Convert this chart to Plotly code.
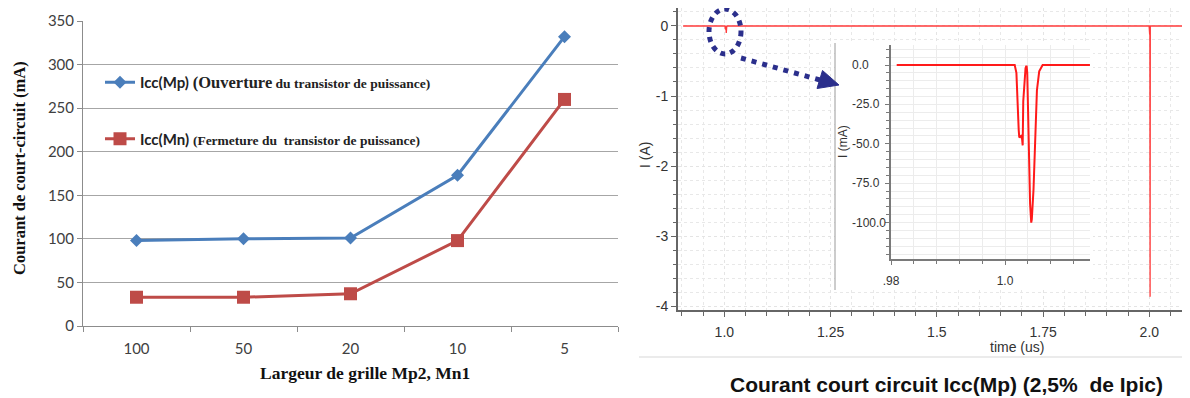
import plotly.graph_objects as go

# The page body adds an 8px margin, so the figure is drawn 8px smaller
# and every layout position below is given in screenshot pixels.
OFF = 8
W, H = 1190 - OFF, 398 - OFF

# ---------------- data: left chart ----------------
gate_width = ["100", "50", "20", "10", "5"]
icc_mp = [98, 100, 101, 173, 332]
icc_mn = [33, 33, 37, 98, 260]
left_yticks = [0, 50, 100, 150, 200, 250, 300, 350]

# ---------------- data: right chart (main, A vs us) ----------------
t_main = [0.903, 1.0017, 1.0024, 1.0031, 1.0038, 1.0046, 1.0056, 1.0066,
          1.9995, 2.0008, 2.0013, 2.0018, 2.0023, 2.0957]
i_main = [0.0, 0.0, -0.041, -0.051, -0.001, -0.100, -0.016, 0.0,
          0.0, -0.12, -0.05, -3.867, 0.0, 0.0]
main_xtick_vals = [1.0, 1.25, 1.5, 1.75, 2.0]
main_xtick_text = ["1.0", "1.25", "1.5", "1.75", "2.0"]
main_ytick_vals = [0, -1, -2, -3, -4]
main_ytick_text = ["0", "-1", "-2", "-3", "-4"]

# ---------------- data: inset (mA vs us) ----------------
t_inset = [0.9810, 1.0017, 1.0020, 1.0022, 1.0024, 1.0025, 1.0028, 1.0030,
           1.0031, 1.0032, 1.0034, 1.0036, 1.0037, 1.0038, 1.0039, 1.0041,
           1.0044, 1.0046, 1.0047, 1.0050, 1.0053, 1.0056, 1.0060, 1.0066,
           1.0149]
i_inset = [0, 0, -5, -30, -41, -46, -45, -47,
           -51, -23, -8, -2, -1, -1, -5, -41,
           -88, -100, -98, -79, -41, -16, -4, 0,
           0]
inset_xtick_vals = [0.98, 1.0]
inset_xtick_text = [".98", "1.0"]
inset_ytick_vals = [0, -25, -50, -75, -100]
inset_ytick_text = ["0.0", "-25.0", "-50.0", "-75.0", "-100.0"]


def px(x):
    return (x - OFF) / W


def py(y):
    return 1 - (y - OFF) / H


fig = go.Figure()

# left chart traces
fig.add_trace(go.Scatter(
    x=gate_width, y=icc_mp, mode="lines+markers", xaxis="x", yaxis="y",
    name="<b>Icc(Mp)</b> <span style=\"font-family:Liberation Serif;font-size:16.5px\"><b>(Ouverture</b></span>"
         "<span style=\"font-family:Liberation Serif;font-size:13.5px\"><b> du transistor de puissance)</b></span>",
    legendgroup="mp",
    line=dict(color="#4A7EBB", width=3),
    marker=dict(symbol="diamond", size=10, color="#4A7EBB"),
))
fig.add_trace(go.Scatter(
    x=gate_width, y=icc_mn, mode="lines+markers", xaxis="x", yaxis="y",
    name="<b>Icc(Mn)</b> <span style=\"font-family:Liberation Serif;font-size:13.5px\"><b>(Fermeture du  transistor de puissance)</b></span>",
    legendgroup="mn",
    line=dict(color="#BE4B48", width=3),
    marker=dict(symbol="square", size=13, color="#BE4B48"),
))

# right main trace
fig.add_trace(go.Scatter(
    x=t_main, y=i_main, mode="lines", xaxis="x2", yaxis="y2", showlegend=False,
    line=dict(color="#ff3b3b", width=1.3),
))
# inset trace
fig.add_trace(go.Scatter(
    x=t_inset, y=i_inset, mode="lines", xaxis="x3", yaxis="y3", showlegend=False,
    line=dict(color="#ff1a1a", width=2),
))

tick_font_left = dict(family="Lato", size=15, color="#404040")
tick_font_right = dict(family="Liberation Sans", size=14, color="#333333")
tick_font_inset = dict(family="Liberation Sans", size=12, color="#333333")

fig.update_layout(
    width=W, height=H,
    margin=dict(l=0, r=0, t=0, b=0, pad=0, autoexpand=False),
    paper_bgcolor="white", plot_bgcolor="white",
    showlegend=True,
    legend=dict(
        x=px(100), y=py(66), xanchor="left", yanchor="top",
        bgcolor="rgba(0,0,0,0)", borderwidth=0,
        traceorder="grouped", tracegroupgap=34,
        font=dict(family="Lato", size=15, color="#222222"),
    ),
    xaxis=dict(
        domain=[px(83), px(618)], type="category", range=[-0.5, 4.5],
        showline=True, linecolor="#8c8c8c", linewidth=1,
        ticks="outside", ticklen=5, tickcolor="#8c8c8c", tickson="boundaries",
        showgrid=False, zeroline=False, tickfont=tick_font_left,
        ticklabelstandoff=9, anchor="y", automargin=False,
    ),
    yaxis=dict(
        domain=[py(326), py(21)], range=[0, 350], tickvals=left_yticks,
        showline=True, linecolor="#8c8c8c", linewidth=1,
        ticks="outside", ticklen=5, tickcolor="#8c8c8c",
        showgrid=True, gridcolor="#a6a6a6", gridwidth=1, zeroline=False,
        tickfont=tick_font_left, anchor="x", automargin=False,
    ),
    xaxis2=dict(
        domain=[px(678), 1.0], range=[0.891, 2.0957],
        tickvals=main_xtick_vals, ticktext=main_xtick_text,
        showline=True, linecolor="#666666", linewidth=2,
        ticks="outside", ticklen=5, tickcolor="#666666",
        showgrid=True, gridcolor="#e4e4e4", griddash="dot", gridwidth=1,
        minor=dict(tickmode="linear", tick0=1.0, dtick=0.05, ticks="outside",
                   ticklen=4, tickcolor="#666666", showgrid=True,
                   gridcolor="#e8e8e8", griddash="dot", gridwidth=1),
        zeroline=False, tickfont=tick_font_right, anchor="y2", automargin=False,
        ticklabelstandoff=3,
    ),
    yaxis2=dict(
        domain=[py(310), 1.0], range=[-4.057, 0.257],
        tickvals=main_ytick_vals, ticktext=main_ytick_text,
        showline=True, linecolor="#666666", linewidth=2,
        ticks="outside", ticklen=5, tickcolor="#666666",
        showgrid=True, gridcolor="#e4e4e4", griddash="dot", gridwidth=1,
        minor=dict(tickmode="linear", tick0=0, dtick=0.2, ticks="outside",
                   ticklen=3, tickcolor="#666666", showgrid=True,
                   gridcolor="#e8e8e8", griddash="dot", gridwidth=1),
        zeroline=False, tickfont=tick_font_right, anchor="x2", automargin=False,
    ),
    xaxis3=dict(
        domain=[px(891), px(1090)], range=[0.98, 1.01491],
        tickvals=inset_xtick_vals, ticktext=inset_xtick_text,
        showline=True, linecolor="#7a7a7a", linewidth=1.5,
        ticks="outside", ticklen=4, tickcolor="#7a7a7a",
        showgrid=True, gridcolor="#ececec", gridwidth=1,
        minor=dict(tickmode="linear", tick0=0.98, dtick=0.004, ticks="outside",
                   ticklen=3, tickcolor="#7a7a7a", showgrid=True,
                   gridcolor="#ececec", gridwidth=1),
        zeroline=False, tickfont=tick_font_inset, anchor="y3", automargin=False,
        ticklabelstandoff=6,
    ),
    yaxis3=dict(
        domain=[py(259), py(45)], range=[-123.1, 12.7],
        tickvals=inset_ytick_vals, showticklabels=False,
        showline=True, linecolor="#7a7a7a", linewidth=1.5,
        ticks="outside", ticklen=4, tickcolor="#7a7a7a",
        showgrid=True, gridcolor="#ececec", gridwidth=1,
        minor=dict(tickmode="linear", tick0=0, dtick=5, ticks="outside",
                   ticklen=3, tickcolor="#7a7a7a", showgrid=True,
                   gridcolor="#ececec", gridwidth=1),
        zeroline=False, anchor="x3", automargin=False,
    ),
)

navy = "#2B2F8C"
shapes = [
    # white panel behind the inset (above main gridlines, below traces)
    dict(type="rect", xref="x2", yref="y2", layer="between",
         x0=0.891 + (835 - 678) / 425, x1=0.891 + (1093 - 678) / 425,
         y0=-(290 - 26) / 70, y1=-(43 - 26) / 70,
         fillcolor="white", line=dict(width=0)),
    # inset panel left border
    dict(type="line", xref="paper", yref="paper",
         x0=px(835), x1=px(835), y0=py(43), y1=py(290),
         line=dict(color="#9a9a9a", width=1)),
    # separator line above caption
    dict(type="line", xref="paper", yref="paper",
         x0=px(639), x1=1.0, y0=py(357), y1=py(357),
         line=dict(color="#ebebeb", width=2)),
    # dotted ellipse
    dict(type="circle", xref="paper", yref="paper", layer="above",
         x0=px(709), x1=px(741), y0=py(54), y1=py(9),
         line=dict(color=navy, width=5, dash="5px,5px")),
    # dotted arrow shaft
    dict(type="line", xref="paper", yref="paper", layer="above",
         x0=px(741), y0=py(58), x1=px(820), y1=py(80),
         line=dict(color=navy, width=5, dash="5px,6px")),
    # arrow head
    dict(type="path", xref="paper", yref="paper", layer="above",
         path=f"M {px(839)} {py(85)} L {px(822.5)} {py(70.5)} L {px(817)} {py(88.5)} Z",
         fillcolor=navy, line=dict(color=navy, width=1)),
]
fig.update_layout(shapes=shapes)

annotations = [
    dict(text="<b>Courant de court-circuit (mA)</b>", x=px(19), y=py(168), xref="paper", yref="paper",
         textangle=-90, showarrow=False, xanchor="center", yanchor="middle",
         font=dict(family="Liberation Serif", size=16.5, color="#111111")),
    dict(text="<b>Largeur de grille Mp2, Mn1</b>", x=px(365), y=py(373), xref="paper", yref="paper",
         showarrow=False, xanchor="center", yanchor="middle",
         font=dict(family="Liberation Serif", size=17.5, color="#111111")),
    dict(text="I (A)", x=px(645), y=py(155), xref="paper", yref="paper",
         textangle=-90, showarrow=False, xanchor="center", yanchor="middle",
         font=dict(family="Liberation Sans", size=14, color="#333333")),
    dict(text="time (us)", x=px(1017), y=py(347), xref="paper", yref="paper",
         showarrow=False, xanchor="center", yanchor="middle",
         font=dict(family="Liberation Sans", size=14, color="#333333")),
    dict(text="I (mA)", x=px(843), y=py(142), xref="paper", yref="paper",
         textangle=-90, showarrow=False, xanchor="center", yanchor="middle",
         font=dict(family="Liberation Sans", size=12, color="#333333")),
    dict(text="<b>Courant court circuit Icc(Mp) (2,5%\u00a0 de Ipic)</b>", x=px(946), y=py(384),
         xref="paper", yref="paper", showarrow=False, xanchor="center", yanchor="middle",
         font=dict(family="Liberation Sans", size=21, color="#111111")),
]
# inset y tick labels, left-aligned as in the simulator window
for v, lbl in zip(inset_ytick_vals, inset_ytick_text):
    annotations.append(dict(
        text=lbl, x=px(850), y=v, xref="paper", yref="y3",
        showarrow=False, xanchor="left", yanchor="middle",
        font=tick_font_inset,
    ))
fig.update_layout(annotations=annotations)

fig.write_html("out.html")
